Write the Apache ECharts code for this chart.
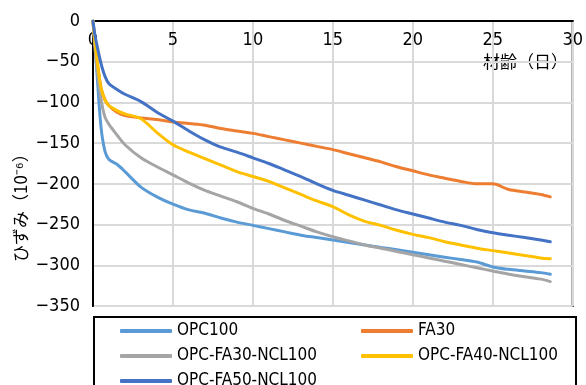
<!DOCTYPE html>
<html>
<head>
<meta charset="utf-8">
<script src="https://cdn.jsdelivr.net/npm/echarts@6/dist/echarts.min.js"></script>
<style>html,body{margin:0;padding:0;background:#fff;}#c{width:586px;height:385px;}</style>
</head>
<body>
<div id="c"></div>
<script>
const days = [0, 0.1, 0.25, 0.5, 0.75, 1, 1.5, 2, 3, 4, 5, 6, 7, 8, 9, 10, 11, 12, 13, 14, 15, 16, 17, 18, 19, 20, 21, 22, 23, 24, 25, 26, 27, 28, 28.6];
const xTicks = [0, 5, 10, 15, 20, 25, 30];
const yTicks = [0, -50, -100, -150, -200, -250, -300, -350];
const seriesNames = ['OPC100', 'FA30', 'OPC-FA30-NCL100', 'OPC-FA40-NCL100', 'OPC-FA50-NCL100'];
const opc100 =   [0, -20, -65, -130, -160, -170, -176, -185, -204, -216, -225, -232, -236, -242, -247, -251, -255, -259, -263, -266, -269, -272, -275, -278, -281, -284, -287, -290, -293, -296, -302, -305, -307, -309, -311];
const fa30 =     [0, -22, -48, -82, -97, -104, -112, -116, -119, -121, -124, -126, -128, -132, -135, -138, -142, -146, -150, -154, -158, -163, -168, -173, -179, -184, -189, -193, -197, -200, -200, -207, -210, -213, -216];
const opcFa30 =  [0, -28, -58, -96, -118, -127, -140, -152, -168, -179, -189, -199, -208, -215, -222, -230, -237, -245, -252, -259, -265, -270, -275, -279, -283, -287, -291, -295, -299, -303, -307, -311, -314, -317, -320];
const opcFa40 =  [0, -22, -48, -82, -97, -104, -110, -114, -120, -137, -152, -161, -169, -177, -185, -191, -197, -205, -213, -221, -228, -238, -246, -251, -257, -262, -266, -271, -275, -279, -282, -285, -288, -291, -292];
const opcFa50 =  [0, -15, -30, -52, -68, -77, -84, -90, -99, -112, -123, -135, -146, -155, -161, -168, -175, -183, -191, -200, -208, -214, -220, -226, -232, -237, -242, -247, -251, -256, -260, -263, -266, -269, -271];
const colors = ['#5B9BD5', '#ED7D31', '#A5A5A5', '#FFC000', '#4472C4'];

const allValues = [opc100, fa30, opcFa30, opcFa40, opcFa50];
const latin = '"Liberation Sans Narrow", "DejaVu Sans Condensed", "Noto Sans CJK JP", sans-serif';
const jp = '"Noto Sans CJK JP", sans-serif';

const chart = echarts.init(document.getElementById('c'));
chart.setOption({
  animation: false,
  backgroundColor: '#fff',
  grid: { left: 93, top: 21, right: 9, bottom: 79, show: true, borderColor: '#000', borderWidth: 2, backgroundColor: 'transparent' },
  xAxis: {
    type: 'value', position: 'top', min: xTicks[0], max: xTicks[xTicks.length - 1], interval: 5,
    axisLine: { show: true, onZero: false, lineStyle: { color: '#000', width: 2 } },
    axisTick: { show: false },
    axisLabel: { inside: true, margin: 10, color: '#000', fontSize: 18, fontFamily: latin, showMaxLabel: true, showMinLabel: true },
    splitLine: { show: true, lineStyle: { color: '#D9D9D9', width: 2 } }
  },
  yAxis: {
    type: 'value', min: -350, max: 0, interval: 50,
    axisLine: { show: true, onZero: false, lineStyle: { color: '#000', width: 2 } },
    axisTick: { show: false },
    axisLabel: { margin: 13, color: '#000', fontSize: 18, fontFamily: latin, formatter: v => (v < 0 ? '\u2212' + Math.abs(v) : String(v)) },
    splitLine: { show: true, lineStyle: { color: '#D9D9D9', width: 2 } }
  },
  legend: [
    { data: [seriesNames[0], seriesNames[2], seriesNames[4]], orient: 'vertical', left: 115, top: 316, height: 150, itemWidth: 52, itemHeight: 4, itemGap: 5, icon: 'roundRect',
      textStyle: { color: '#000', fontSize: 17, fontFamily: latin, lineHeight: 20 } },
    { data: [seriesNames[1], seriesNames[3]], orient: 'vertical', left: 356, top: 316, height: 150, itemWidth: 52, itemHeight: 4, itemGap: 5, icon: 'roundRect',
      textStyle: { color: '#000', fontSize: 17, fontFamily: latin, lineHeight: 20 } }
  ],
  graphic: [
    { type: 'rect', left: 93, top: 316, shape: { width: 482, height: 90 }, style: { fill: 'transparent', stroke: '#000', lineWidth: 2 }, silent: true },
    { type: 'text', left: 483, top: 53, style: { text: '材齢（日）', font: '17px ' + jp, fill: '#000' } },
    { type: 'text', x: 12, y: 262, rotation: Math.PI / 2, style: { text: 'ひずみ（10⁻⁶）', font: '17px ' + jp, fill: '#000' } }
  ],
  series: seriesNames.map((n, i) => ({
    name: n, type: 'line', showSymbol: false, symbol: 'none', smooth: 0.3,
    data: days.map((d, k) => [d, allValues[i][k]]),
    lineStyle: { color: colors[i], width: 3, cap: 'round', join: 'round' },
    itemStyle: { color: colors[i] }
  }))
});
</script>
</body>
</html>
